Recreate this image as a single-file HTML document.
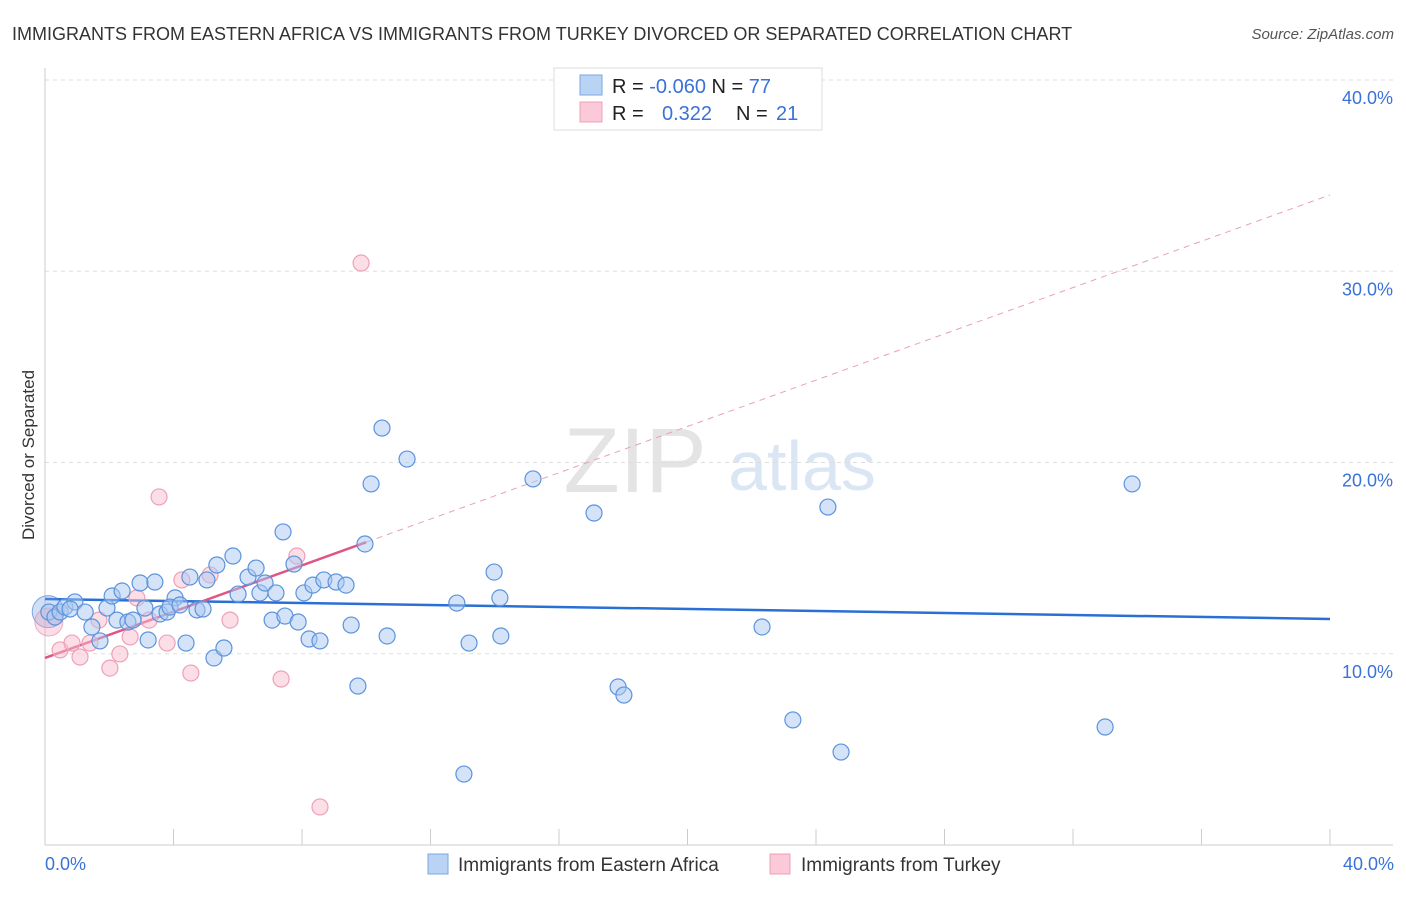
<!DOCTYPE html>
<html><head><meta charset="utf-8"><style>
body{margin:0;background:#fff;font-family:"Liberation Sans",sans-serif;}
svg text{font-family:"Liberation Sans",sans-serif;}
</style></head><body>
<svg id="chart" width="1406" height="892" xmlns="http://www.w3.org/2000/svg">
<text x="12" y="40" font-size="18" fill="#333">IMMIGRANTS FROM EASTERN AFRICA VS IMMIGRANTS FROM TURKEY DIVORCED OR SEPARATED CORRELATION CHART</text>
<text x="1394" y="39" font-size="15" fill="#555" font-style="italic" text-anchor="end">Source: ZipAtlas.com</text>
<text x="34" y="455" font-size="17" fill="#333" text-anchor="middle" transform="rotate(-90 34 455)">Divorced or Separated</text>
<g>
<text x="635" y="492" font-size="92" fill="#e4e4e4" font-family="Liberation Serif" text-anchor="middle">ZIP</text>
<text x="802" y="490" font-size="70" fill="#dbe6f5" text-anchor="middle">atlas</text>
</g>
<g id="grid"></g>
<g id="ticks"></g>
<g id="lines"></g>
<g id="pts"></g>
<g>
<rect x="554" y="68" width="268" height="62" fill="#fff" stroke="#ddd"/>
<rect x="580" y="75" width="22" height="20" fill="#b9d3f4" stroke="#7aa7e0"/>
<rect x="580" y="102" width="22" height="20" fill="#fbc9d8" stroke="#eea0b8"/>
<text x="612" y="93" font-size="20" fill="#222">R = <tspan fill="#3a72d8">-0.060</tspan>   N = <tspan fill="#3a72d8">77</tspan></text>
<text x="612" y="120" font-size="20" fill="#222">R = <tspan fill="#3a72d8" x="662">0.322</tspan><tspan x="736">N = </tspan><tspan fill="#3a72d8" x="776">21</tspan></text>
</g>
<g>
<rect x="428" y="854" width="20" height="20" fill="#b9d3f4" stroke="#7aa7e0"/>
<text x="458" y="871" font-size="19" fill="#333">Immigrants from Eastern Africa</text>
<rect x="770" y="854" width="20" height="20" fill="#fbc9d8" stroke="#eea0b8"/>
<text x="801" y="871" font-size="19" fill="#333">Immigrants from Turkey</text>
</g>
<text x="45" y="870" font-size="18" fill="#3a72d8">0.0%</text>
<text x="1394" y="870" font-size="18" fill="#3a72d8" text-anchor="end">40.0%</text>
</svg>
<script>
const yTicks=[10,20,30,40];
const yTickLabels=["10.0%","20.0%","30.0%","40.0%"];
const blueX=[0.12,0.31,0.47,0.62,0.93,0.78,1.25,1.46,1.71,1.93,2.09,2.24,2.40,2.58,2.74,2.96,3.11,3.21,3.42,3.58,3.80,4.05,3.89,4.20,4.39,4.51,4.73,4.92,5.04,5.26,5.35,5.57,5.85,6.01,6.32,6.57,6.69,6.85,7.07,7.19,7.41,7.47,7.75,7.88,8.06,8.22,8.34,8.56,8.68,9.06,9.37,9.53,9.74,9.96,10.15,10.49,10.65,11.27,12.82,13.04,13.20,13.98,14.16,14.19,15.19,17.09,17.84,18.02,22.32,23.28,24.37,24.78,33.00,33.84];
const blueY=[12.18,11.92,12.18,12.44,12.71,12.34,12.18,11.40,10.67,12.39,13.02,11.76,13.28,11.66,11.76,13.70,12.39,10.72,13.75,12.08,12.18,12.92,12.44,12.55,10.56,14.01,12.29,12.34,13.86,9.78,14.64,10.30,15.11,13.12,14.01,14.48,13.18,13.70,11.76,13.18,16.37,11.97,14.69,11.66,13.18,10.77,13.59,10.67,13.86,13.75,13.59,11.50,8.31,15.74,18.88,21.80,10.93,20.18,12.65,3.71,10.56,14.27,12.92,10.93,19.14,17.36,8.26,7.84,11.40,6.54,17.67,4.86,6.17,18.88];
const pinkX=[0.47,0.84,1.09,1.40,1.68,2.02,2.33,2.65,2.86,3.24,3.55,3.80,4.26,4.54,5.14,5.76,7.35,7.84,8.56,9.84];
const pinkY=[10.20,10.56,9.83,10.56,11.76,9.25,9.99,10.88,12.92,11.76,18.20,10.56,13.86,8.99,14.12,11.76,8.68,15.11,1.99,30.43];
const blueTrend=[12.86,11.82]; // at x=0 and x=40
const pinkTrend=[9.78,33.99];
const pinkSolidEnd=10;
const X=v=>45+v*32.125, Y=v=>845-v*19.125;
const NS="http://www.w3.org/2000/svg";
function mk(p,t,a){const e=document.createElementNS(NS,t);for(const k in a)e.setAttribute(k,a[k]);document.getElementById(p).appendChild(e);return e;}
yTicks.forEach((t,i)=>{
 const l=mk('grid','line',{x1:45,x2:1393,y1:Y(t),y2:Y(t),stroke:'#ddd','stroke-dasharray':'4 4'});
 
 
 const tx=mk('grid','text',{x:1393,y:Y(t)+24,'font-size':18,fill:'#3a72d8','text-anchor':'end'});
 tx.textContent=yTickLabels[i];
 
 
});
let ax=mk('ticks','line',{x1:45,x2:1393,y1:845,y2:845,stroke:'#ccc'});


let ay=mk('ticks','line',{x1:45,x2:45,y1:68,y2:845,stroke:'#ccc'});


for(let v=0;v<=40;v+=4){const t=mk('ticks','line',{x1:X(v),x2:X(v),y1:829,y2:845,stroke:'#ccc'});
 
 }
let bt=mk('lines','line',{x1:X(0),y1:Y(blueTrend[0]),x2:X(40),y2:Y(blueTrend[1]),stroke:'#2a6fd6','stroke-width':2.5});


const pAt=v=>pinkTrend[0]+(pinkTrend[1]-pinkTrend[0])*v/40;
let pd=mk('lines','line',{x1:X(pinkSolidEnd),y1:Y(pAt(pinkSolidEnd)),x2:X(40),y2:Y(pinkTrend[1]),stroke:'#e8a0b6','stroke-width':1,'stroke-dasharray':'6 5'});


let ps=mk('lines','line',{x1:X(0),y1:Y(pinkTrend[0]),x2:X(pinkSolidEnd),y2:Y(pAt(pinkSolidEnd)),stroke:'#e05585','stroke-width':2.5});


let bb=mk('pts','circle',{cx:X(0.1),cy:Y(12.2),r:16,fill:'rgba(120,160,230,0.35)',stroke:'rgba(60,120,210,0.6)'});


let pb=mk('pts','circle',{cx:X(0.12),cy:Y(11.66),r:14,fill:'rgba(245,170,195,0.4)',stroke:'rgba(230,130,160,0.6)'});


pinkX.forEach((x,i)=>{const c=mk('pts','circle',{cx:X(x),cy:Y(pinkY[i]),r:8,fill:'rgba(250,190,208,0.5)',stroke:'#eea0b8','stroke-width':1.2});
 
 });
blueX.forEach((x,i)=>{const c=mk('pts','circle',{cx:X(x),cy:Y(blueY[i]),r:8,fill:'rgba(170,200,240,0.5)',stroke:'#5b93dd','stroke-width':1.2});
 
 });
</script>
</body></html>
